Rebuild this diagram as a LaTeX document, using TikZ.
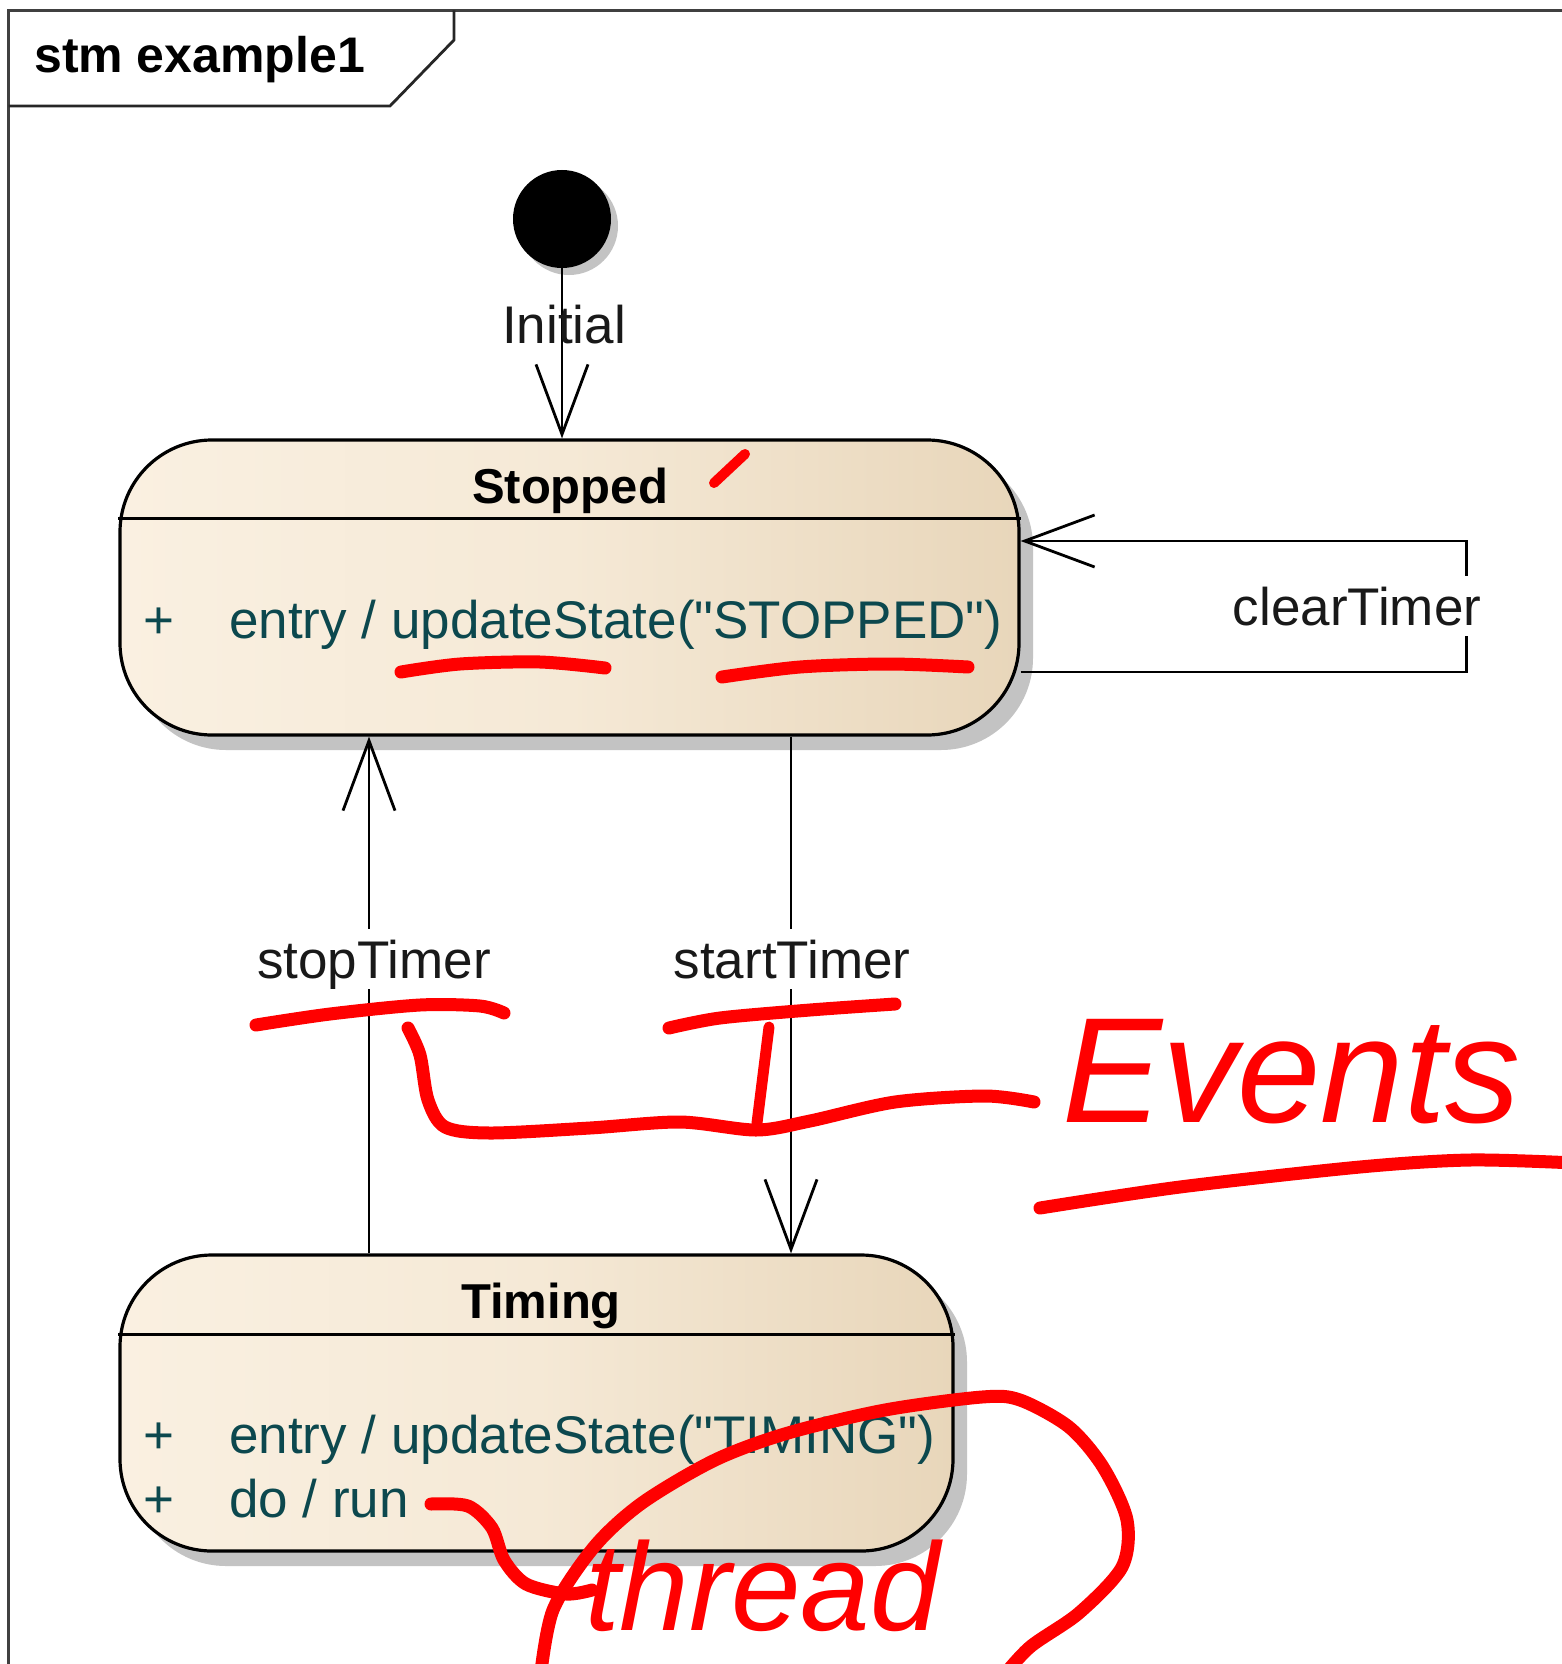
\documentclass[tikz,border=0pt]{standalone}
\usepackage{fontspec}
\setmainfont{Liberation Sans}
\newfontfamily\plainsans{Liberation Sans}
\usetikzlibrary{arrows.meta, shadows, positioning}

\definecolor{stateleft}{HTML}{FAF0E1}
\definecolor{statemid}{HTML}{F5E9D6}
\definecolor{stateright}{HTML}{E8D6BA}
\definecolor{shadowgrey}{HTML}{C3C3C3}
\definecolor{bodytext}{HTML}{0C484E}
\definecolor{pen}{HTML}{FF0000}

\tikzset{
  state/.style={draw=black, line width=3.2pt, rounded corners=92pt,
    left color=stateleft, right color=stateright, middle color=statemid,
    general shadow={fill=shadowgrey, shadow xshift=14pt, shadow yshift=-15pt}},
  trans/.style={line width=2.8pt, -{Straight Barb[length=70pt, width=52pt, line width=2.8pt]}},
  lbl/.style={font=\plainsans\fontsize{53}{60}\selectfont, text=black!90, inner sep=11pt, text depth=0pt},
  title/.style={font=\plainsans\fontsize{49}{56}\selectfont\bfseries, inner sep=0pt},
  body/.style={font=\plainsans\fontsize{53}{60}\selectfont, text=bodytext, inner sep=0pt},
  ink/.style={pen, line width=13pt, line cap=round, line join=round},
}

\begin{document}
\begin{tikzpicture}[x=1pt, y=-1pt]
\fill[white] (0,0) rectangle (1562,1664);
\useasboundingbox (0,0) rectangle (1562,1664);

% frame
\draw[black!75, line width=2.8pt] (8.5,1670) -- (8.5,10.5) -- (1570,10.5);
\draw[black!85, line width=2.8pt] (8.5,106) -- (390,106) -- (454,40) -- (454,10.5);
\node[font=\plainsans\fontsize{50}{56}\selectfont\bfseries, anchor=base west, inner sep=0pt] (frameName) at (34,73) {stm example1};

% states
\node[circle, fill=black, minimum size=98pt, inner sep=0pt,
  general shadow={fill=shadowgrey, shadow xshift=7pt, shadow yshift=-7pt}] (init) at (562,219) {};

\node[state, minimum width=899pt, minimum height=295pt] (stopped) at (569.5,587.5) {};
\draw[line width=3.2pt] ([yshift=-80pt]stopped.north west) -- ([yshift=-80pt]stopped.north east);
\node[title, anchor=base] (stoppedName) at (570,503) {Stopped};
\node[body, anchor=base west] (stoppedPlus) at (143,638) {+};
\node[body, anchor=base west] (stoppedEntry) at (229,638) {entry / updateState("STOPPED")};

\node[state, minimum width=833pt, minimum height=296pt] (timing) at (536.5,1403) {};
\draw[line width=3.2pt] ([yshift=-81pt]timing.north west) -- ([yshift=-81pt]timing.north east);
\node[title, anchor=base] (timingName) at (541,1318) {Timing};
\node[body, anchor=base west] (timingPlusA) at (143,1453) {+};
\node[body, anchor=base west] (timingEntry) at (229,1453) {entry / updateState("TIMING")};
\node[body, anchor=base west] (timingPlusB) at (143,1517) {+};
\node[body, anchor=base west] (timingDo) at (229,1517) {do / run};

% transitions
\draw[trans] (init) -- (init |- stopped.north);
\node[lbl, anchor=base] (initLbl) at (564,343) {Initial};

\draw[trans] ([yshift=-84.5pt]stopped.east) -- ++(446,0) -- ++(0,-131) -- ([yshift=46.5pt]stopped.east);
\node[lbl, fill=white, anchor=base] (clearLbl) at (1357,625) {clearTimer};

\draw[trans] ([xshift=-167.5pt]timing.north) -- ([xshift=-200.5pt]stopped.south);
\node[lbl, fill=white, anchor=base] (stopLbl) at (374,978) {stopTimer};

\draw[trans] ([xshift=221.5pt]stopped.south) -- ([xshift=254.5pt]timing.north);
\node[lbl, fill=white, anchor=base] (startLbl) at (792,978) {startTimer};

% red notes
\draw[ink, line width=10pt] (714,483) -- (745,454);
\draw[ink] plot[smooth] coordinates {(401,672) (460,664) (540,662) (605,668)};
\draw[ink] plot[smooth] coordinates {(722,677) (800,667) (890,664) (968,667)};

\draw[ink] plot[smooth] coordinates {(256,1025) (330,1014) (420,1005) (480,1006) (504,1013)};
\draw[ink] plot[smooth] coordinates {(669,1028) (720,1018) (810,1010) (895,1004)};
\draw[ink, line width=11pt] (769,1027) -- (757,1123);
\draw[ink] plot[smooth] coordinates {(408,1028) (420,1055) (428,1100) (445,1127) (490,1133) (590,1128) (680,1122) (756,1130) (810,1121) (895,1102) (985,1096) (1034,1102)};
\node[text=pen, font=\plainsans\fontsize{150}{160}\selectfont\itshape, anchor=base west, inner sep=0pt] (eventsNote) at (1062,1122) {Events};
\draw[ink] plot[smooth] coordinates {(1040,1208) (1180,1187) (1360,1167) (1470,1160) (1575,1163)};

\draw[ink] plot[smooth] coordinates {(431,1504) (468,1506) (492,1528) (504,1560) (526,1584) (566,1594) (592,1590)};
\node[text=pen, font=\plainsans\fontsize{125}{135}\selectfont\itshape, anchor=base west, inner sep=0pt] (threadNote) at (585,1630) {thread};
\draw[ink] plot[smooth] coordinates {(540,1680) (553,1610) (594,1547) (642,1503) (715,1460) (788,1433) (885,1410) (982,1397) (1020,1400) (1069,1427) (1103,1467) (1127,1520) (1122,1567) (1079,1613) (1030,1647) (1000,1680)};
\end{tikzpicture}
\end{document}
